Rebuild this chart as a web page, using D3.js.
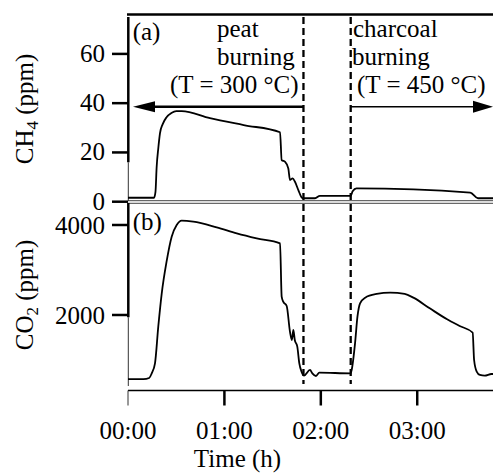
<!DOCTYPE html>
<html><head><meta charset="utf-8">
<script src="https://cdn.jsdelivr.net/npm/d3@7"></script>
<style>body{margin:0;background:#fff}svg{display:block}text{font-family:"Liberation Serif","Times New Roman",serif;fill:#000}</style>
</head><body>
<script>
// ---- data ----
const ch4Time = [0, 0.27, 0.285, 0.297, 0.315, 0.332, 0.36, 0.40, 0.45, 0.50, 0.557, 0.85, 1.20, 1.577, 1.594, 1.63, 1.663, 1.68, 1.708, 1.732, 1.767, 1.80, 1.82, 1.94, 1.99, 2.31, 2.33, 2.37, 3.55, 3.63, 3.79];
const ch4Vals = [1.6, 1.6, 4, 14, 22, 27.8, 31.5, 34.3, 36.0, 36.8, 36.8, 33.9, 31.1, 28.2, 16.9, 16.2, 13.5, 8.8, 9.5, 8.1, 4.7, 1.8, 1.4, 1.4, 2.4, 2.4, 4.2, 5.4, 3.7, 1.4, 1.4];
const co2Time = [0, 0.16, 0.22, 0.246, 0.28, 0.314, 0.35, 0.40, 0.453, 0.505, 0.557, 0.677, 0.92, 1.128, 1.335, 1.577, 1.594, 1.61, 1.646, 1.68, 1.70, 1.715, 1.73, 1.756, 1.777, 1.80, 1.826, 1.888, 1.912, 1.95, 1.985, 2.31, 2.32, 2.355, 2.38, 2.407, 2.46, 2.58, 2.72, 2.87, 2.96, 3.13, 3.31, 3.44, 3.575, 3.59, 3.617, 3.65, 3.70, 3.77, 3.79];
const co2Vals = [574, 574, 600, 704, 926, 1741, 2481, 3185, 3741, 4000, 4096, 4074, 3948, 3815, 3704, 3593, 2407, 2296, 2200, 1630, 1444, 1667, 1444, 1296, 926, 741, 651, 778, 704, 644, 718, 704, 778, 1370, 1963, 2259, 2385, 2467, 2496, 2467, 2385, 2148, 1904, 1756, 1607, 1000, 741, 667, 651, 689, 689];
const ch4Ticks = [0, 20, 40, 60];
const co2Ticks = [2000, 4000];
const xTickVals = [0, 1, 2, 3];
const xTickLabels = ["00:00", "01:00", "02:00", "03:00"];
const phaseBounds = [1.82, 2.31];

const W = 493, H = 474;
const svg = d3.select("body").append("svg").attr("width", W).attr("height", H);

const x = d3.scaleLinear().domain([0, 3.786]).range([128, 493]);
const yA = d3.scaleLinear().domain([0, 76.2]).range([201.7, 14]);
const yB = d3.scaleLinear().domain([444, 4511]).range([385, 202]);
const FS = 25;

// frame lines
svg.append("line").attr("x1", 127).attr("x2", W).attr("y1", 14.5).attr("y2", 14.5).attr("stroke", "#000").attr("stroke-width", 2.5);
svg.append("line").attr("x1", 128).attr("x2", W).attr("y1", 200.7).attr("y2", 200.7).attr("stroke", "#444").attr("stroke-width", 1);
svg.append("line").attr("x1", 128).attr("x2", W).attr("y1", 203.3).attr("y2", 203.3).attr("stroke", "#444").attr("stroke-width", 1);

// left axes (thick upper part, thin lower part)
function leftAxis(y0, yThick, y1) {
  svg.append("line").attr("x1", 128.3).attr("x2", 128.3).attr("y1", y0).attr("y2", yThick).attr("stroke", "#000").attr("stroke-width", 2.5);
  svg.append("line").attr("x1", 128.3).attr("x2", 128.3).attr("y1", yThick).attr("y2", y1).attr("stroke", "#333").attr("stroke-width", 1);
}
leftAxis(17, yA(16), 201);
leftAxis(203, yB(1950), 386);

// y ticks
function yTicks(scale, ticks, dy) {
  ticks.forEach(v => {
    svg.append("line").attr("x1", 112).attr("x2", 128).attr("y1", scale(v)).attr("y2", scale(v)).attr("stroke", "#000").attr("stroke-width", 2.5);
    svg.append("text").attr("x", 105).attr("y", scale(v) + dy).attr("text-anchor", "end").attr("font-size", FS).text(v);
  });
}
yTicks(yA, ch4Ticks, 8);
yTicks(yB, co2Ticks, 9);

// x axis
const xg = svg.append("g").attr("transform", "translate(0,390.5)");
xg.append("line").attr("x1", 128).attr("x2", W).attr("y1", 0).attr("y2", 0).attr("stroke", "#000").attr("stroke-width", 1.5);
xTickVals.forEach((t, i) => {
  xg.append("line").attr("x1", x(t)).attr("x2", x(t)).attr("y1", 0).attr("y2", 15)
    .attr("stroke", i === 0 ? "#333" : "#000").attr("stroke-width", i === 0 ? 1 : 2.5);
  xg.append("text").attr("x", x(t)).attr("y", 48.5).attr("text-anchor", "middle").attr("font-size", FS).text(xTickLabels[i]);
});
svg.append("text").attr("x", 237.5).attr("y", 467).attr("text-anchor", "middle").attr("font-size", FS).text("Time (h)");

// y titles
function yTitle(cy, main, sub) {
  const t = svg.append("text").attr("transform", `translate(33,${cy}) rotate(-90)`).attr("text-anchor", "middle").attr("font-size", FS);
  t.append("tspan").text(main);
  t.append("tspan").attr("font-size", 17).attr("dy", 5).text(sub);
  t.append("tspan").attr("dy", -5).text(" (ppm)");
}
yTitle(109, "CH", "4");
yTitle(295, "CO", "2");

// dashed phase boundaries
phaseBounds.forEach(t => {
  svg.append("line").attr("x1", x(t)).attr("x2", x(t)).attr("y1", 17).attr("y2", 384)
    .attr("stroke", "#000").attr("stroke-width", 2.3).attr("stroke-dasharray", "7,4");
});

// data lines
const lineA = d3.line().x((d, i) => x(ch4Time[i])).y(d => yA(d)).curve(d3.curveMonotoneX);
const lineB = d3.line().x((d, i) => x(co2Time[i])).y(d => yB(d)).curve(d3.curveMonotoneX);
svg.append("path").attr("d", lineA(ch4Vals)).attr("fill", "none").attr("stroke", "#000").attr("stroke-width", 1.8).attr("stroke-linejoin", "round");
svg.append("path").attr("d", lineB(co2Vals)).attr("fill", "none").attr("stroke", "#000").attr("stroke-width", 1.8).attr("stroke-linejoin", "round");

// arrows
const ay = 106.7;
svg.append("line").attr("x1", 152).attr("x2", x(phaseBounds[0])).attr("y1", ay).attr("y2", ay).attr("stroke", "#000").attr("stroke-width", 2.5);
svg.append("path").attr("d", `M133,${ay} L155,${ay - 5.5} L155,${ay + 5.5} Z`).attr("fill", "#000");
svg.append("line").attr("x1", x(phaseBounds[1])).attr("x2", 475).attr("y1", ay).attr("y2", ay).attr("stroke", "#000").attr("stroke-width", 1.5);
svg.append("path").attr("d", `M493,${ay} L473,${ay - 6} L473,${ay + 6} Z`).attr("fill", "#000");

// annotations
function txt(xp, yp, s) { svg.append("text").attr("x", xp).attr("y", yp).attr("font-size", FS).text(s); }
txt(132.7, 40, "(a)");
txt(132.7, 229.5, "(b)");
txt(217, 37, "peat");
txt(217, 65, "burning");
txt(170, 93, "(T = 300 °C)");
txt(353, 37, "charcoal");
txt(352, 65, "burning");
txt(357, 93, "(T = 450 °C)");
</script>
</body></html>
